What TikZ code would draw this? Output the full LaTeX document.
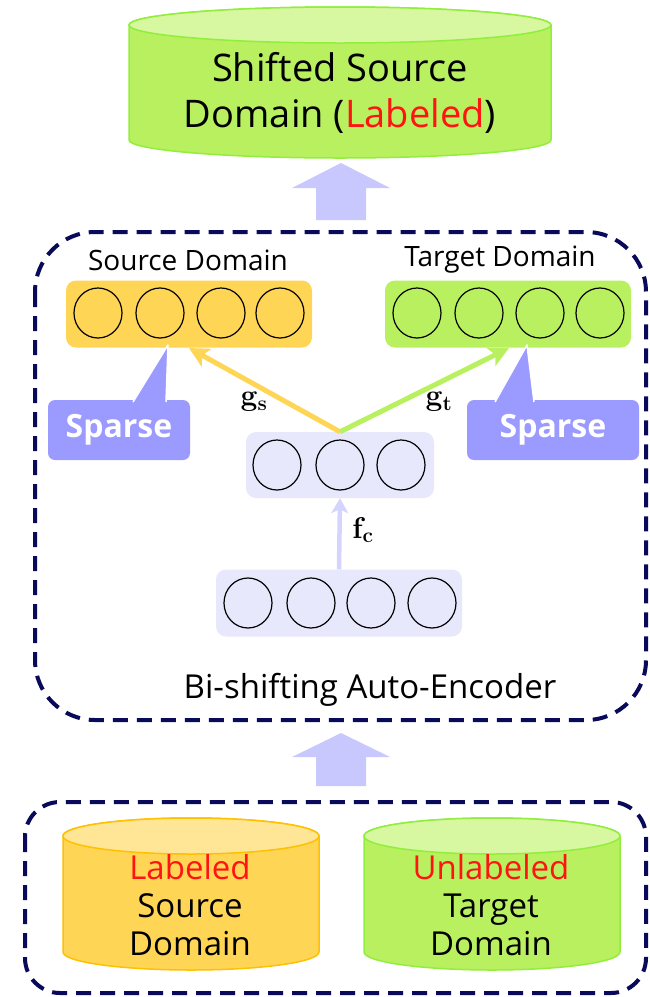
\RequirePackage{fix-cm}
\documentclass[tikz,border=0pt]{standalone}
\usepackage[no-math]{fontspec}
\setmainfont{Open Sans}
\usetikzlibrary{arrows.meta,shapes.geometric}
\definecolor{navy}{HTML}{0A0A5A}
\definecolor{grnbody}{RGB}{185,240,95}
\definecolor{grntop}{RGB}{215,247,160}
\definecolor{grnline}{RGB}{146,238,60}
\definecolor{orgbody}{RGB}{255,213,85}
\definecolor{orgtop}{RGB}{255,230,150}
\definecolor{orgline}{RGB}{255,192,0}
\definecolor{lav}{RGB}{232,232,252}
\definecolor{sparsecol}{RGB}{155,155,255}
\definecolor{blockcol}{RGB}{200,200,255}
\definecolor{fccol}{RGB}{212,212,255}
\definecolor{lblred}{RGB}{255,20,20}
\newcommand{\mycyl}[8]{%
  \pgfmathsetmacro\cylrx{(#2-#1)/2}%
  \filldraw[draw=#8, fill=#6, line width=1.5pt] (#1,#3) -- (#1,#4)
    arc[start angle=180,end angle=360,x radius=\cylrx pt,y radius=#5 pt]
    -- (#2,#3)
    arc[start angle=0,end angle=180,x radius=\cylrx pt,y radius=#5 pt] -- cycle;
  \filldraw[draw=#8, fill=#7, line width=1.5pt] ({(#1+#2)/2},#3)
    ellipse[x radius=\cylrx pt, y radius=#5 pt];
}
\begin{document}
\begin{tikzpicture}[x=1pt,y=-1pt,
  dashbox/.style={draw=navy, line width=4pt, dash pattern=on 15pt off 9pt},
  layerbox/.style={rectangle, rounded corners=10pt, inner sep=0pt},
  unit/.style={draw=black, line width=1.2pt, ellipse, minimum width=48pt, minimum height=50pt, inner sep=0pt},
  sparsebox/.style={rectangle, fill=sparsecol, rounded corners=7pt, inner sep=0pt,
    minimum width=142pt, minimum height=60pt, text=white, font=\fontsize{32}{38}\selectfont\bfseries},
  domlabel/.style={font=\fontsize{28}{34}\selectfont},
  cyltext/.style={align=center, font=\fontsize{33}{38}\selectfont},
  mlabel/.style={font=\fontsize{30}{34}\selectfont},
  blockarrow/.style={fill=blockcol},
]
\useasboundingbox (0,0) rectangle (650,997);

% ---------- top cylinder ----------
\mycyl{129}{551}{25}{140}{18}{grnbody}{grntop}{grnline}
\node[cyltext, font=\fontsize{38}{46}\selectfont] (shifted) at (340,93)
  {Shifted Source\\Domain (\textcolor{lblred}{Labeled})};

% ---------- block arrow 1 ----------
\fill[blockarrow] (316,220) -- (316,188) -- (292,188) -- (341,163) -- (390,188) -- (366,188) -- (366,220) -- cycle;

% ---------- auto-encoder box ----------
\draw[dashbox, rounded corners=60pt] (35,232) rectangle (646,720);
\node[domlabel] (srclbl) at (188,260) {Source Domain};
\node[domlabel] (tgtlbl) at (500,260) {Target Domain};

\node[layerbox, fill=orgbody, minimum width=246pt, minimum height=67pt] (src) at (189,314) {};
\node[layerbox, fill=grnbody, minimum width=246pt, minimum height=67pt] (tgt) at (508,314) {};
\node[layerbox, fill=lav, minimum width=188pt, minimum height=66pt] (mid) at (340,465) {};
\node[layerbox, fill=lav, minimum width=246pt, minimum height=67pt] (bot) at (339,603) {};

\foreach \x [count=\i] in {98,160,221,280} \node[unit] (s\i) at (\x,313) {};
\foreach \x [count=\i] in {417,479,540,600} \node[unit] (t\i) at (\x,313) {};
\foreach \x [count=\i] in {277,340,401} \node[unit] (m\i) at (\x,465) {};
\foreach \x [count=\i] in {248,311,371,432} \node[unit] (b\i) at (\x,603) {};

% connectors
\coordinate (gsend) at (189,348);
\coordinate (gtend) at (509,348);
\draw[orgbody, line width=5pt, -{Stealth[length=20pt,width=20pt,inset=5pt]}] (mid.north) -- (gsend);
\draw[grnbody, line width=5pt, -{Stealth[length=20pt,width=20pt,inset=5pt]}] (mid.north) -- (gtend);
\draw[fccol, line width=4.5pt, -{Stealth[length=15pt,width=17pt,inset=4pt]}] (bot.north) -- (mid.south);
\node[mlabel] (gs) at (254,402) {$\mathbf{g_s}$};
\node[mlabel] (gt) at (439,402) {$\mathbf{g_t}$};
\node[mlabel] (fc) at (363,530) {$\mathbf{f_c}$};

% sparse callouts
\node[sparsebox] (sp1) at (119,430) {Sparse};
\fill[sparsecol] (133,401) -- (168,346) -- (166,401) -- cycle;
\draw[white, line width=1.5pt, line join=round] (133,402) -- (168,345) -- (166,402);
\node[sparsebox, minimum width=172pt] (sp2) at (553,430) {Sparse};
\fill[sparsecol] (495,401) -- (527,346) -- (534,401) -- cycle;
\draw[white, line width=1.5pt, line join=round] (495,402) -- (527,345) -- (534,402);

\node[font=\fontsize{33}{38}\selectfont] (bsae) at (370,690) {Bi-shifting Auto-Encoder};

% ---------- block arrow 2 ----------
\fill[blockarrow] (316,786) -- (316,757) -- (292,757) -- (341,733) -- (390,757) -- (366,757) -- (366,786) -- cycle;

% ---------- bottom box ----------
\draw[dashbox, rounded corners=35pt] (25,802) rectangle (646,993);
\mycyl{63}{319}{836}{952}{18}{orgbody}{orgtop}{orgline}
\mycyl{364}{620}{836}{952}{18}{grnbody}{grntop}{grnline}
\node[cyltext] (srcdb) at (190,905) {\textcolor{lblred}{Labeled}\\Source\\Domain};
\node[cyltext] (tgtdb) at (491,905) {\textcolor{lblred}{Unlabeled}\\Target\\Domain};
\end{tikzpicture}
\end{document}
